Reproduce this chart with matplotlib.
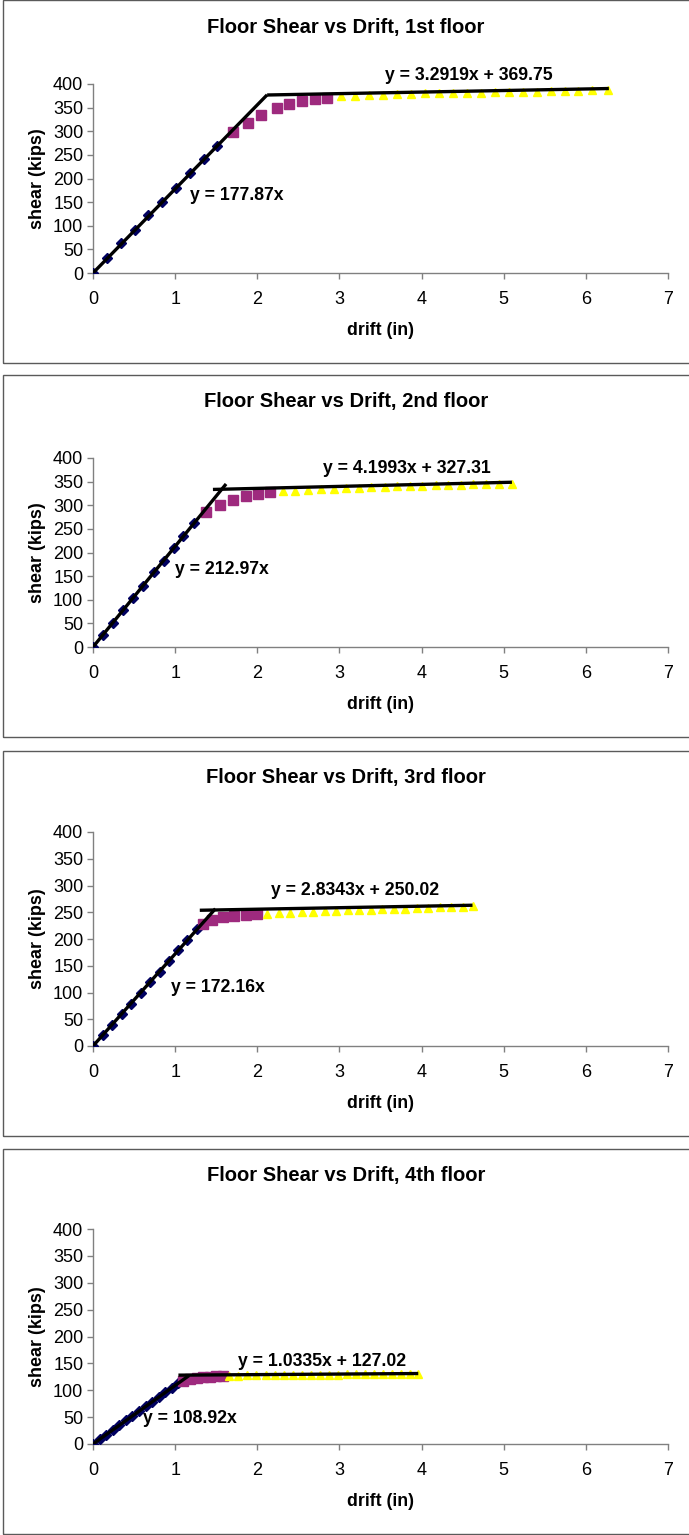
import matplotlib
matplotlib.use("Agg")
import matplotlib.pyplot as plt
from matplotlib.patches import Rectangle

plt.rcParams['font.family'] = ['Liberation Sans', 'DejaVu Sans']

W, H = 689, 1535

floors = ["1st", "2nd", "3rd", "4th"]

# elastic range (diamonds)
elastic_x = [
    [0, 0.17, 0.34, 0.51, 0.67, 0.84, 1.01, 1.18, 1.35, 1.51],
    [0, 0.12, 0.24, 0.37, 0.49, 0.61, 0.74, 0.86, 0.98, 1.10, 1.23],
    [0, 0.12, 0.23, 0.35, 0.46, 0.58, 0.69, 0.81, 0.92, 1.04, 1.15, 1.27],
    [0, 0.08, 0.16, 0.24, 0.32, 0.40, 0.48, 0.56, 0.64, 0.72, 0.80, 0.88, 0.96, 1.04],
]
elastic_y = [
    [0, 32, 63, 92, 123, 151, 180, 211, 241, 269],
    [0, 26, 51, 79, 104, 130, 158, 183, 209, 234, 262],
    [0, 21, 40, 60, 79, 100, 119, 139, 158, 179, 198, 219],
    [0, 9, 17, 26, 35, 44, 52, 61, 70, 78, 87, 96, 105, 113],
]

# yielding range (squares)
yield_x = [
    [1.70, 1.89, 2.05, 2.24, 2.39, 2.54, 2.70, 2.85],
    [1.38, 1.55, 1.71, 1.86, 2.01, 2.16],
    [1.34, 1.45, 1.58, 1.72, 1.86, 2.00],
    [1.10, 1.18, 1.26, 1.34, 1.42, 1.50, 1.58],
]
yield_y = [
    [299, 318, 334, 349, 358, 364, 368, 371],
    [286, 300, 311, 319, 324, 327],
    [228, 236, 241, 243, 244, 246],
    [118, 121, 123, 124, 125, 126, 127],
]

# post-yield range (triangles)
plastic_x = [
    [3.02, 3.19, 3.36, 3.53, 3.70, 3.87, 4.04, 4.21, 4.38, 4.55,
     4.72, 4.89, 5.06, 5.23, 5.40, 5.57, 5.74, 5.91, 6.08, 6.27],
    [2.31, 2.46, 2.62, 2.77, 2.93, 3.08, 3.24, 3.39, 3.55, 3.70,
     3.86, 4.01, 4.17, 4.32, 4.48, 4.63, 4.79, 4.94, 5.10],
    [2.12, 2.26, 2.40, 2.54, 2.68, 2.82, 2.96, 3.10, 3.24, 3.38,
     3.52, 3.66, 3.80, 3.94, 4.08, 4.22, 4.36, 4.50, 4.62],
    [1.66, 1.77, 1.88, 1.99, 2.10, 2.21, 2.32, 2.43, 2.54, 2.65,
     2.76, 2.87, 2.98, 3.09, 3.20, 3.31, 3.42, 3.53, 3.64, 3.75, 3.86, 3.96],
]
plastic_y = [
    [374, 375, 376, 377, 378, 379, 380, 381, 381, 382,
     382, 383, 383, 384, 384, 385, 386, 386, 387, 388],
    [330, 331, 333, 334, 335, 336, 337, 338, 339, 340,
     340, 341, 342, 342, 343, 344, 344, 345, 346],
    [247, 248, 249, 250, 251, 252, 253, 254, 254, 255,
     256, 256, 257, 258, 258, 259, 260, 260, 261],
    [127, 127, 128, 128, 128, 128, 128, 129, 129, 129,
     129, 129, 129, 130, 130, 130, 130, 130, 130, 131, 131, 131],
]

# fitted lines: y = k*x (elastic) and y = m*x + c (post-yield)
k_elastic = [177.87, 212.97, 172.16, 108.92]
m_plastic = [3.2919, 4.1993, 2.8343, 1.0335]
c_plastic = [369.75, 327.31, 250.02, 127.02]
elastic_end = [2.12, 1.62, 1.49, 1.17]
plastic_start = [2.12, 1.46, 1.30, 1.04]
plastic_end = [6.28, 5.10, 4.62, 3.96]

# layout in pixels: panel box (top, bottom), axes (top, bottom)
panel_box = [(0, 363), (375, 737), (751, 1136), (1149, 1534)]
axes_tb = [(84, 273), (458, 647), (832, 1046), (1229, 1444)]
ax_left, ax_right = 93, 668

# equation label positions (data coords)
lin_pos = [(1.75, 165), (1.57, 165), (1.52, 110), (1.18, 48)]
pl_pos = [(4.57, 419), (3.82, 377), (3.19, 290), (2.79, 154)]

fig = plt.figure(figsize=(W / 100, H / 100), dpi=100)

for i in range(4):
    top, bot = panel_box[i]
    fig.patches.append(Rectangle((3 / W, 1 - bot / H), (W + 10) / W, (bot - top) / H,
                                 transform=fig.transFigure, facecolor='none',
                                 edgecolor='#5a5a5a', linewidth=1.0, zorder=0))
    at, ab = axes_tb[i]
    ax = fig.add_axes([ax_left / W, 1 - ab / H, (ax_right - ax_left) / W, (ab - at) / H])
    ax.set_facecolor('none')

    ax.plot(elastic_x[i], elastic_y[i], linestyle='none', marker='D', markersize=5.5,
            color='#000060', zorder=3)
    ax.plot(yield_x[i], yield_y[i], linestyle='none', marker='s', markersize=7,
            color='#9E2A7E', zorder=3)
    ax.plot(plastic_x[i], plastic_y[i], linestyle='none', marker='^', markersize=6,
            color='#FFFF00', zorder=3)

    ax.plot([0, elastic_end[i]], [0, k_elastic[i] * elastic_end[i]],
            color='black', linewidth=2.4, zorder=4, solid_capstyle='butt')
    xs = [plastic_start[i], plastic_end[i]]
    ax.plot(xs, [m_plastic[i] * x + c_plastic[i] for x in xs],
            color='black', linewidth=2.4, zorder=4, solid_capstyle='butt')

    ax.text(*lin_pos[i], f"y = {k_elastic[i]:.2f}x", fontsize=12.7, fontweight='bold',
            ha='center', va='center')
    ax.text(*pl_pos[i], f"y = {m_plastic[i]:.4f}x + {c_plastic[i]:.2f}", fontsize=12.7,
            fontweight='bold', ha='center', va='center')

    ax.set_xlim(0, 7)
    ax.set_ylim(0, 400)
    ax.set_xticks(range(0, 8))
    ax.set_yticks(range(0, 401, 50))
    for s in ['top', 'right']:
        ax.spines[s].set_visible(False)
    for s in ['left', 'bottom']:
        ax.spines[s].set_color('#808080')
        ax.spines[s].set_linewidth(1.0)
    ax.tick_params(axis='both', colors='#808080', labelcolor='black', labelsize=13,
                   direction='out', length=4, width=1.0)
    ax.tick_params(axis='x', pad=9)
    ax.tick_params(axis='y', pad=3)

    fig.text(346 / W, 1 - (top + 27) / H, f"Floor Shear vs Drift, {floors[i]} floor",
             fontsize=14.5, fontweight='bold', ha='center', va='center')
    ax.set_xlabel("drift (in)", fontsize=12.8, fontweight='bold', labelpad=10)
    ax.set_ylabel("shear (kips)", fontsize=13, fontweight='bold', labelpad=5)

fig.savefig("out.png", dpi=100)
